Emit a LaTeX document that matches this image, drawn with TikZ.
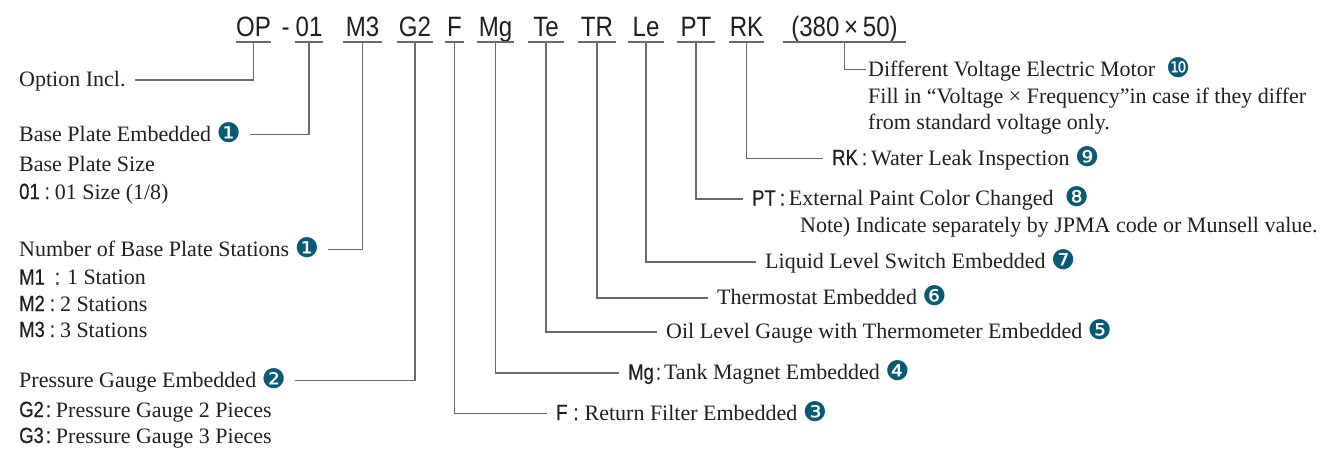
\documentclass[tikz,border=0pt]{standalone}
\usepackage{fontspec}
\setmainfont{Liberation Serif}
\newfontfamily\codefont[FakeStretch=0.86]{Liberation Sans}
\newfontfamily\keyfont[FakeStretch=0.84,FakeBold=0.5]{Liberation Sans}
\newfontfamily\dingfont{DejaVu Sans}
\usetikzlibrary{positioning}
\definecolor{numteal}{HTML}{0B5A74}
\definecolor{leadgray}{HTML}{6A6A6A}
\definecolor{inkblack}{HTML}{231F20}
\newcommand{\cd}[1]{{\keyfont\fontsize{22}{22}\selectfont #1}}
\newcommand{\cnum}[1]{{\dingfont\fontsize{27}{22}\selectfont\color{numteal}\raisebox{-1pt}{#1}}}

\begin{document}
\begin{tikzpicture}[
  x=1pt, y=-1pt,
  code/.style={anchor=south, inner sep=0pt, minimum width=35pt, text height=20pt, text depth=5pt, font=\codefont\fontsize{28}{30}\selectfont, text=inkblack},
  desc/.style={anchor=base west, inner sep=0pt, text height=16pt, text depth=3pt, font=\fontsize{22}{26}\selectfont, text=inkblack},
  uline/.style={draw=leadgray, line width=1.2pt},
  lead/.style={draw=leadgray, line width=1.1pt, shorten >=9pt}
]
\useasboundingbox (0,0) rectangle (1335,448);

% model code
\node[code] (c-op) at (253.5,42) {OP};
\node[code, minimum width=28pt] (c-01) at (309,42) {01};
\node[code, minimum width=0pt, left=5pt of c-01] (c-dash) {-};
\node[code, minimum width=38pt] (c-m3) at (362.5,42) {M3};
\node[code] (c-g2) at (415,42) {G2};
\node[code, minimum width=18pt] (c-f) at (454.5,42) {F};
\node[code, minimum width=37pt] (c-mg) at (495.5,42) {Mg};
\node[code] (c-te) at (546,42) {Te};
\node[code, minimum width=37pt] (c-tr) at (597,42) {TR};
\node[code] (c-le) at (646,42) {Le};
\node[code, minimum width=37pt] (c-pt) at (696,42) {PT};
\node[code] (c-rk) at (746.5,42) {RK};
\node[code, minimum width=123pt] (c-size) at (844.5,42) {(380\,×\,50)};
\foreach \c in {op,01,m3,g2,f,mg,te,tr,le,pt,rk,size}
  \draw[uline] (c-\c.south west) -- (c-\c.south east);

% left column
\node[desc] (d-op) at (19,86.5) {Option Incl.};
\node[desc] (d-bpe) at (19,141) {Base Plate Embedded \cnum{❶}};
\node[desc] (d-bps) at (19,171) {Base Plate Size};
\node[desc] (d-bp01) at (19,199) {\cd{01}\hspace{5pt}\cd{:}\hspace{5pt}01 Size (1/8)};
\node[desc] (d-nbs) at (19,256) {Number of Base Plate Stations \cnum{❶}};
\node[desc] (d-m1) at (19,284.5) {\cd{M1}\hspace{10pt}\cd{:}\hspace{7pt}1 Station};
\node[desc] (d-m2) at (19,311) {\cd{M2}\hspace{5pt}\cd{:}\hspace{5pt}2 Stations};
\node[desc] (d-m3) at (19,337) {\cd{M3}\hspace{5pt}\cd{:}\hspace{5pt}3 Stations};
\node[desc] (d-pge) at (19,387) {Pressure Gauge Embedded \cnum{❷}};
\node[desc] (d-g2) at (19,417) {\cd{G2}\hspace{2pt}\cd{:}\hspace{5pt}Pressure Gauge 2 Pieces};
\node[desc] (d-g3) at (19,443) {\cd{G3}\hspace{2pt}\cd{:}\hspace{5pt}Pressure Gauge 3 Pieces};

% right column
\node[desc] (d-mot) at (868,76) {Different Voltage Electric Motor\ \ \cnum{❿}};
\node[desc] (d-mot2) at (868,103) {Fill in “Voltage × Frequency”in case if they differ};
\node[desc] (d-mot3) at (868,129) {from standard voltage only.};
\node[desc] (d-rk) at (832,165) {\cd{RK}\hspace{4pt}\cd{:}\hspace{4pt}Water Leak Inspection \cnum{❾}};
\node[desc] (d-pt) at (752,205.5) {\cd{PT}\hspace{4pt}\cd{:}\hspace{4pt}External Paint Color Changed\ \ \cnum{❽}};
\node[desc] (d-note) at (800,232) {Note) Indicate separately by JPMA code or Munsell value.};
\node[desc] (d-le) at (765,268.5) {Liquid Level Switch Embedded \cnum{❼}};
\node[desc] (d-tr) at (717,304.5) {Thermostat Embedded \cnum{❻}};
\node[desc] (d-te) at (666,338.5) {Oil Level Gauge with Thermometer Embedded \cnum{❺}};
\node[desc] (d-mg) at (628,379.5) {\cd{Mg}\hspace{2pt}\cd{:}\hspace{3pt}Tank Magnet Embedded \cnum{❹}};
\node[desc] (d-f) at (556,420) {\cd{F}\hspace{6pt}\cd{:}\hspace{6pt}Return Filter Embedded \cnum{❸}};

% leaders
\draw[lead] (c-op.south) |- (d-op.east);
\draw[lead] (c-01.south) |- (d-bpe.east);
\draw[lead] (c-m3.south) |- (d-nbs.east);
\draw[lead] (c-g2.south) |- (d-pge.east);
\draw[lead, shorten >=2pt] (c-size.south) |- (d-mot.west);
\draw[lead] (c-rk.south) |- (d-rk.west);
\draw[lead] (c-pt.south) |- (d-pt.west);
\draw[lead] (c-le.south) |- (d-le.west);
\draw[lead] (c-tr.south) |- (d-tr.west);
\draw[lead] (c-te.south) |- (d-te.west);
\draw[lead] (c-mg.south) |- (d-mg.west);
\draw[lead] (c-f.south) |- (d-f.west);
\end{tikzpicture}
\end{document}
